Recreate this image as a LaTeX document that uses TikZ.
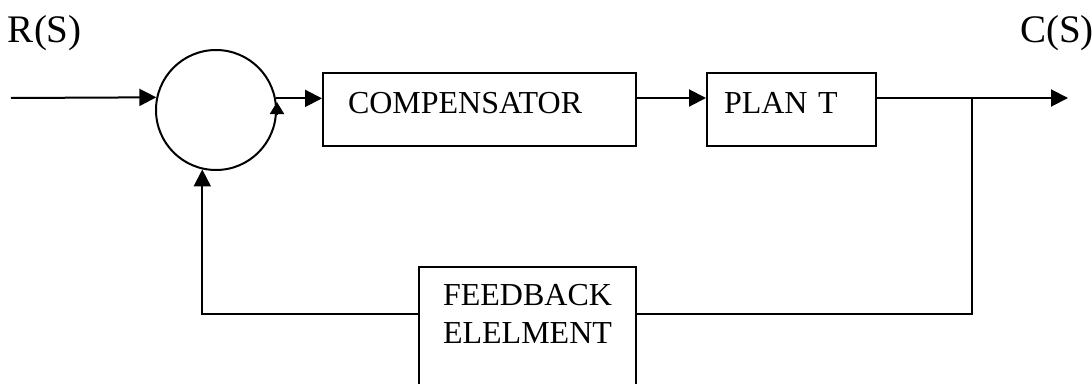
\documentclass[tikz,border=0pt]{standalone}
\usepackage{fontspec}
\setmainfont{Liberation Serif}
\usetikzlibrary{arrows.meta}

\begin{document}
\begin{tikzpicture}[x=1pt,y=-1pt,line width=2pt,
  block/.style={draw,rectangle,font=\fontsize{32}{38}\selectfont,align=left,text height=21pt,text depth=14pt,minimum height=73pt},
  arr/.style={-{Triangle[length=17pt,width=17pt]}},
  sig/.style={font=\fontsize{39}{47}\selectfont,inner sep=0pt,anchor=base west}]
\useasboundingbox (0,0) rectangle (1092,383);

\node[sig] (R) at (7,42) {R(S)};
\node[sig] (C) at (1019,42) {C(S)};
\node[circle,draw,minimum size=120pt,inner sep=0pt] (sum) at (216,110) {};
\node[block,inner xsep=25pt,text width=263pt] (comp) at (479.5,109.5) {COMPENSATOR};
\node[block,inner xsep=17pt,text width=135pt] (plant) at (791.5,109.5) {PLAN T};
\node[draw,anchor=north,font=\fontsize{32}{38}\selectfont,align=center,inner ysep=17pt,text height=59pt,text depth=60pt,minimum width=217pt] (fb) at (527.5,266) {FEEDBACK\\ELELMENT};

\coordinate (in) at (11,98);
\coordinate (out) at (1068,98);
\coordinate (br) at (972,98);
\coordinate (brd) at (972,314);

\path (in) edge [arr] (sum.168.5);
\path (sum.11.5) edge [arr] (comp.west |- sum.11.5);
\path (comp.east |- br) edge [arr] (plant.west |- br);
\path (plant.east |- br) edge [arr] (out);
\draw (br) -- (brd) -- (fb.east |- brd);
\draw[arr] (fb.west |- brd) -| (sum.257.5);
\draw[-{Triangle[length=12pt,width=14pt]}] ([yshift=-4pt]sum.east) -- ++(0,-12);

\end{tikzpicture}
\end{document}
